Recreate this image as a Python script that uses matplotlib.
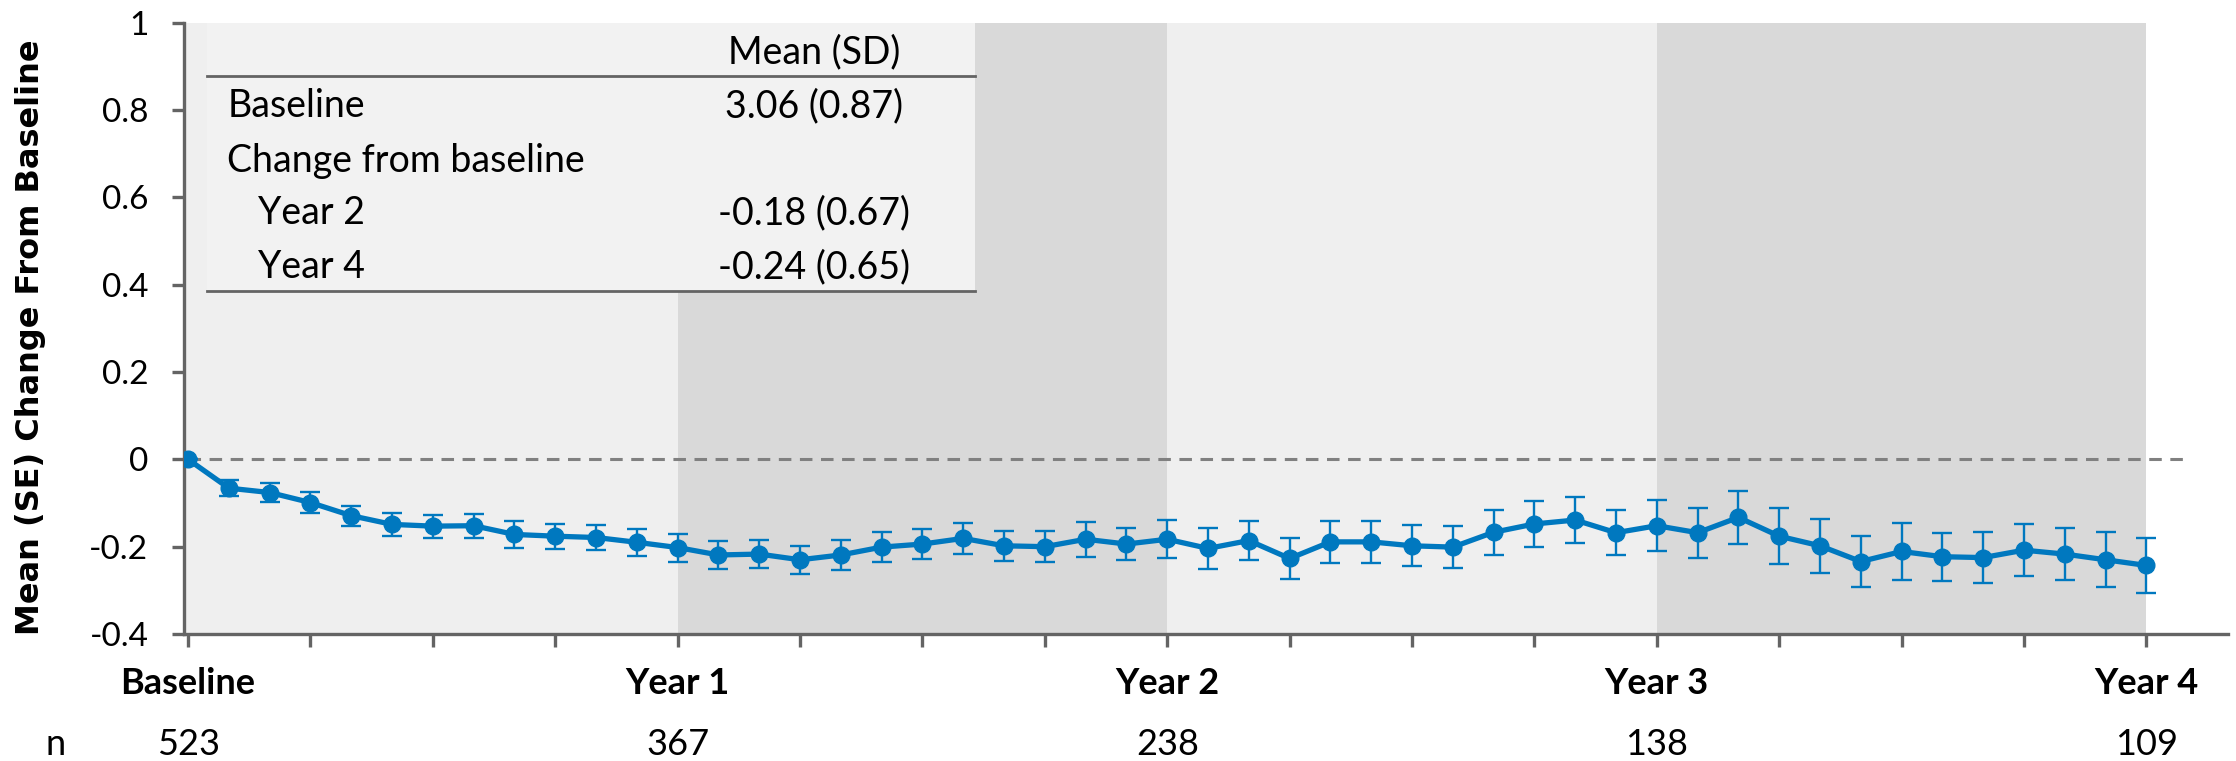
import matplotlib.pyplot as plt
import numpy as np
from matplotlib.transforms import blended_transform_factory

# monthly visits, baseline through year 4
months = np.arange(0, 49)
mean_change = [0.000, -0.066, -0.076, -0.099, -0.129, -0.149, -0.153, -0.152, -0.172, -0.176,
               -0.179, -0.190, -0.202, -0.219, -0.217, -0.230, -0.219, -0.201, -0.194, -0.181,
               -0.198, -0.200, -0.183, -0.194, -0.183, -0.204, -0.186, -0.227, -0.189, -0.189,
               -0.198, -0.201, -0.167, -0.148, -0.139, -0.168, -0.152, -0.168, -0.133, -0.176,
               -0.198, -0.234, -0.211, -0.223, -0.225, -0.208, -0.217, -0.230, -0.243]
se_change = [0.000, 0.018, 0.022, 0.024, 0.023, 0.026, 0.026, 0.027, 0.030, 0.029,
             0.028, 0.031, 0.032, 0.032, 0.032, 0.032, 0.034, 0.035, 0.035, 0.035,
             0.034, 0.036, 0.040, 0.037, 0.043, 0.046, 0.045, 0.046, 0.048, 0.048,
             0.047, 0.048, 0.051, 0.053, 0.053, 0.052, 0.058, 0.057, 0.060, 0.064,
             0.062, 0.059, 0.065, 0.055, 0.059, 0.059, 0.059, 0.063, 0.063]

year_ticks = [0, 12, 24, 36, 48]
year_labels = ["Baseline", "Year 1", "Year 2", "Year 3", "Year 4"]
n_at_risk = ["523", "367", "238", "138", "109"]

table_rows = ["Baseline", "Change from baseline", "Year 2", "Year 4"]
table_values = ["3.06 (0.87)", "", "-0.18 (0.67)", "-0.24 (0.65)"]

blue = "#0078bf"
axis_grey = "#646464"

plt.rcParams['font.family'] = ['Lato', 'DejaVu Sans']
plt.rcParams['axes.unicode_minus'] = False

fig = plt.figure(figsize=(22.36, 7.61), dpi=100)
ax = fig.add_axes([184 / 2236, 127 / 761, 2044 / 2236, 611.3 / 761])

# alternating year bands
for i, start in enumerate(year_ticks[:-1]):
    ax.axvspan(start if i else -0.1, start + 12, color="#efefef" if i % 2 == 0 else "#d9d9d9",
               lw=0, zorder=0)

# summary table box
ax.fill_between([0.47, 19.3], 0.386, 1.0, color="#f2f2f2", lw=0, zorder=1)
ax.plot([0.47, 19.3], [0.878, 0.878], color=axis_grey, lw=2, zorder=2)
ax.plot([0.47, 19.3], [0.386, 0.386], color=axis_grey, lw=2, zorder=2)
ax.text(15.34, 0.907, "Mean (SD)", ha="center", va="baseline", fontsize=27)
row_y = [0.783, 0.659, 0.539, 0.415]
row_x = [0.96, 0.96, 1.72, 1.72]
for label, val, y, x in zip(table_rows, table_values, row_y, row_x):
    ax.text(x, y, label, ha="left", va="baseline", fontsize=27)
    ax.text(15.34, y, val, ha="center", va="baseline", fontsize=27)

ax.plot([0, 48.9], [0, 0], color="#808080", lw=2.2, ls=(0, (4.1, 2.8)), zorder=3)
ax.errorbar(months, mean_change, yerr=se_change, color=blue, lw=3.8, marker="o", ms=12,
            elinewidth=1.7, capsize=7, capthick=1.7, zorder=4)

ax.set_xlim(-0.1, 50)
ax.set_ylim(-0.4, 1.0)
yt = np.arange(-0.4, 1.01, 0.2)
ax.set_yticks(yt)
ax.set_yticklabels(["%g" % round(v, 1) for v in yt])
ax.set_xticks(np.arange(0, 49, 3))
ax.set_xticklabels([year_labels[year_ticks.index(m)] if m in year_ticks else ""
                    for m in range(0, 49, 3)], fontweight="bold")

for side in ["top", "right"]:
    ax.spines[side].set_visible(False)
for side in ["left", "bottom"]:
    ax.spines[side].set_color(axis_grey)
    ax.spines[side].set_linewidth(2.4)
ax.tick_params(axis="y", length=8.6, width=2.4, color=axis_grey, labelsize=24, pad=17)
ax.tick_params(axis="x", length=9.4, width=2.4, color=axis_grey, labelsize=26, pad=14)

fig.text(31 / 2236, 0.557, "Mean (SE) Change From Baseline", rotation=90, ha="center",
         va="center", fontsize=23, fontweight="bold", family="DejaVu Sans")

# number of patients under each visit label
n_trans = blended_transform_factory(ax.transData, fig.transFigure)
fig.text(56 / 2236, 6 / 761, "n", ha="center", va="baseline", fontsize=26)
for m, n in zip(year_ticks, n_at_risk):
    ax.text(m, 6 / 761, n, ha="center", va="baseline", fontsize=26, transform=n_trans)

fig.savefig("out.png", dpi=100)
